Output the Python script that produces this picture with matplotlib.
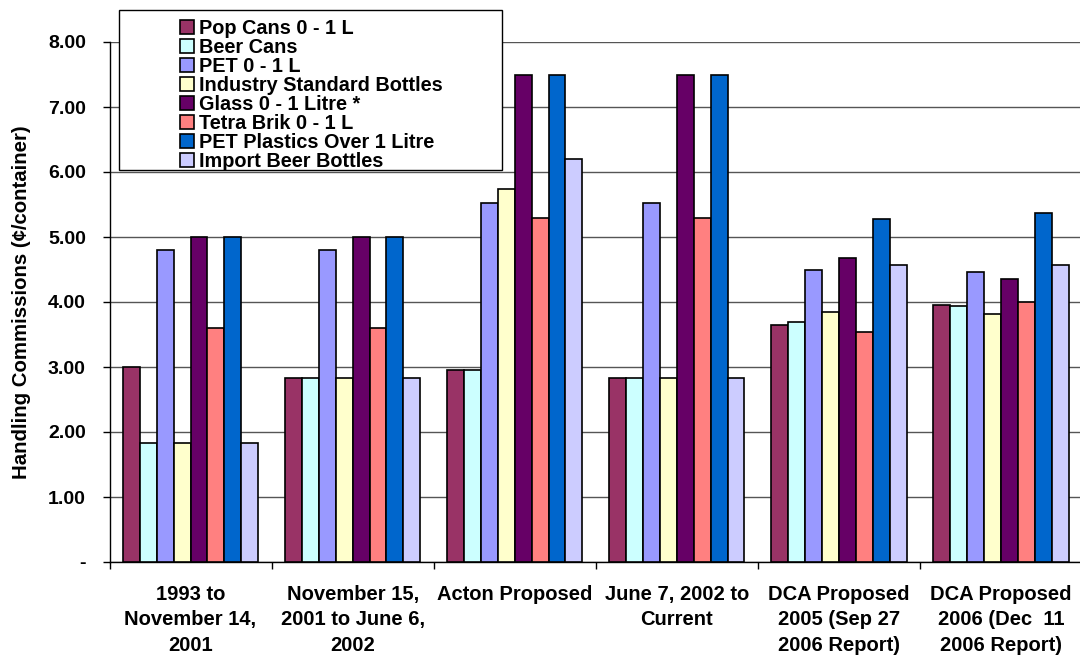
import numpy as np
import matplotlib.pyplot as plt
from matplotlib.patches import Rectangle

plt.rcParams['font.family'] = ['Liberation Sans', 'DejaVu Sans']
plt.rcParams['font.weight'] = 'bold'

# Periods along the x axis
periods = [
    "1993 to\nNovember 14,\n2001",
    "November 15,\n2001 to June 6,\n2002",
    "Acton Proposed",
    "June 7, 2002 to\nCurrent",
    "DCA Proposed\n2005 (Sep 27\n2006 Report)",
    "DCA Proposed\n2006 (Dec  11\n2006 Report)",
]

# Handling commissions (cents per container) for each container type
pop_cans = [3.00, 2.83, 2.95, 2.83, 3.65, 3.96]
beer_cans = [1.83, 2.83, 2.95, 2.83, 3.69, 3.94]
pet_small = [4.80, 4.80, 5.53, 5.53, 4.49, 4.46]
industry_bottles = [1.83, 2.83, 5.74, 2.83, 3.85, 3.82]
glass_small = [5.00, 5.00, 7.50, 7.50, 4.68, 4.35]
tetra_brik = [3.60, 3.60, 5.30, 5.30, 3.54, 4.00]
pet_large = [5.00, 5.00, 7.50, 7.50, 5.27, 5.37]
import_beer = [1.83, 2.83, 6.20, 2.83, 4.57, 4.57]

series_names = [
    "Pop Cans 0 - 1 L",
    "Beer Cans",
    "PET 0 - 1 L",
    "Industry Standard Bottles",
    "Glass 0 - 1 Litre *",
    "Tetra Brik 0 - 1 L",
    "PET Plastics Over 1 Litre",
    "Import Beer Bottles",
]
series = [pop_cans, beer_cans, pet_small, industry_bottles,
          glass_small, tetra_brik, pet_large, import_beer]
colors = ["#993366", "#CCFFFF", "#9999FF", "#FFFFCC",
          "#660066", "#FF8080", "#0066CC", "#CCCCFF"]

y_ticks = [0, 1, 2, 3, 4, 5, 6, 7, 8]
y_tick_labels = ["-", "1.00", "2.00", "3.00", "4.00", "5.00", "6.00", "7.00", "8.00"]

W, H = 1080, 656
fig = plt.figure(figsize=(W / 100, H / 100), dpi=100)
ax = fig.add_axes([109.5 / W, 1 - 562 / H, 972.6 / W, 520 / H])

x = np.arange(len(periods))
n = len(series)
bw = 0.834 / n
handles = []
for i, (vals, c, name) in enumerate(zip(series, colors, series_names)):
    offs = (i - (n - 1) / 2) * bw
    b = ax.bar(x + offs, vals, bw, color=c, edgecolor='black',
               linewidth=1.2, label=name, zorder=3)
    handles.append(b)

ax.set_xlim(-0.5, len(periods) - 0.5)
ax.set_ylim(0, 8)

# y axis
ax.set_yticks(y_ticks)
ax.set_yticklabels(y_tick_labels, fontsize=14, fontweight='bold')
ax.tick_params(axis='y', length=5, width=1, pad=12, color='black')
ax.yaxis.grid(True, color='#555555', linewidth=1.0, zorder=0)
ax.set_axisbelow(True)
ax.set_ylabel("Handling Commissions (\u00a2/container)", fontsize=14.7,
              fontweight='bold', labelpad=12)

# x axis: ticks between categories, labels centred
ax.set_xticks(np.arange(len(periods) + 1) - 0.5)
ax.set_xticklabels([])
ax.set_xticks(x, minor=True)
ax.set_xticklabels(periods, minor=True, fontsize=14.5, fontweight='bold',
                   linespacing=1.45)
ax.tick_params(axis='x', which='major', length=5, width=1, direction='out')
ax.tick_params(axis='x', which='minor', length=0, pad=16.3)

for s in ['top', 'right']:
    ax.spines[s].set_visible(False)
for s in ['left', 'bottom']:
    ax.spines[s].set_linewidth(1)
    ax.spines[s].set_color('black')

# legend box drawn on top of the plot area
box = Rectangle((119 / W, 1 - 170 / H), 383 / W, 160 / H,
                transform=fig.transFigure, facecolor='white',
                edgecolor='black', linewidth=1, zorder=5)
fig.patches.append(box)
leg = fig.legend(handles=handles, labels=series_names, loc='upper left',
                 bbox_to_anchor=(180 / W, 1 - 19 / H),
                 frameon=False, borderpad=0, borderaxespad=0,
                 labelspacing=0.0,
                 handlelength=0.7, handleheight=0.7, handletextpad=0.25,
                 prop={'size': 14.3, 'weight': 'bold'})
leg.set_zorder(6)

fig.savefig("out.png", dpi=100)
